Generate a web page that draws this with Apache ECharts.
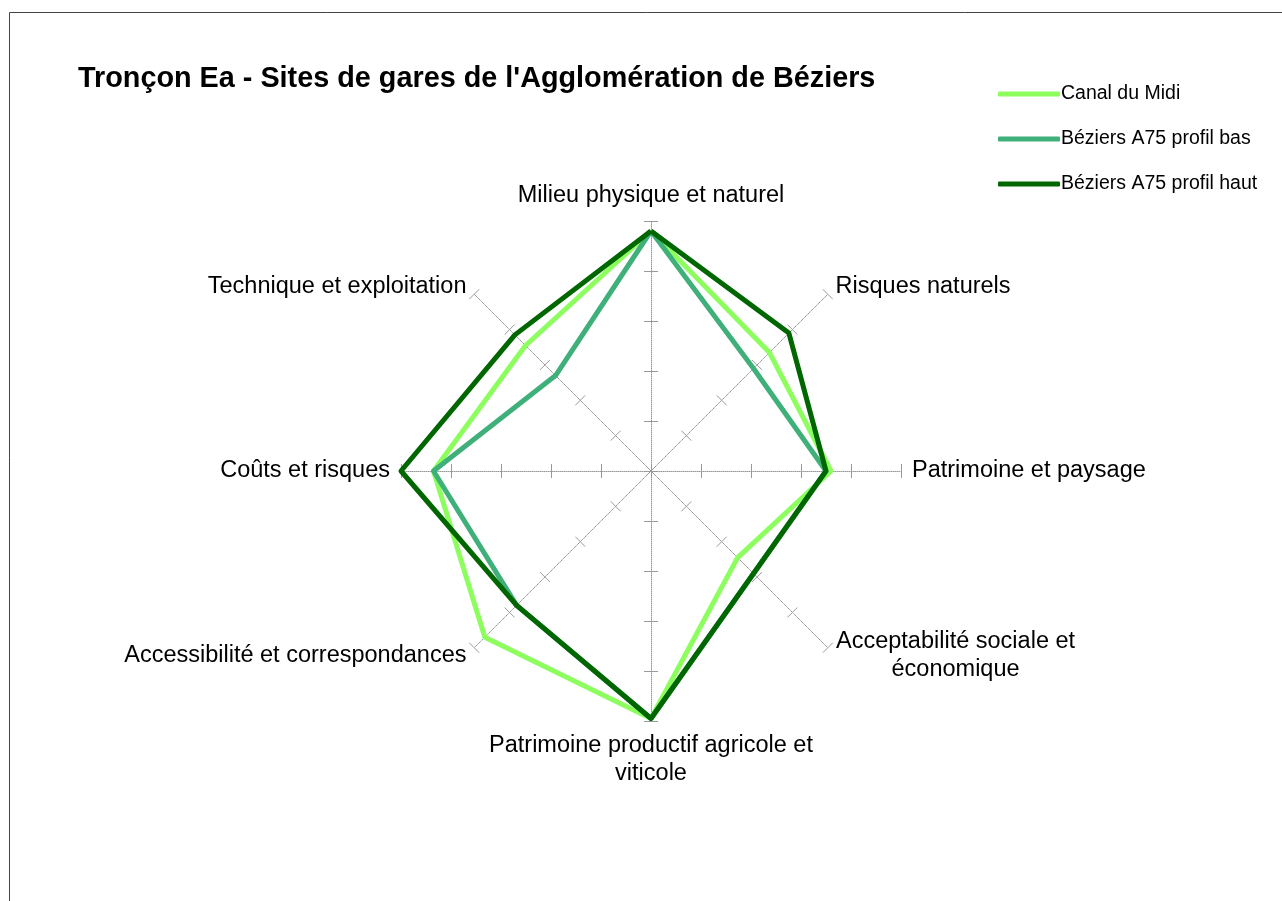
<!DOCTYPE html>
<html>
<head>
    <meta charset="utf-8">
    <title>Tronçon Ea</title>
    <script src="https://cdn.jsdelivr.net/npm/echarts@6/dist/echarts.min.js"></script>
    <style>
        html, body { margin: 0; padding: 0; background: #fff; }
        #main { width: 1282px; height: 901px; }
    </style>
</head>
<body>
<div id="main"></div>
<script type="text/javascript">
    // axes, counter-clockwise from the top (ECharts radar order)
    var axes = ['Milieu physique et naturel', 'Technique et exploitation', 'Coûts et risques',
        'Accessibilité et correspondances', 'Patrimoine productif agricole et\nviticole',
        'Acceptabilité sociale et\néconomique', 'Patrimoine et paysage', 'Risques naturels'];
    var seriesNames = ['Canal du Midi', 'Béziers A75 profil bas', 'Béziers A75 profil haut'];
    var canal = [4.8, 3.55, 4.35, 4.7, 4.95, 2.45, 3.6, 3.35];
    var profilBas = [4.8, 2.7, 4.35, 3.8, 4.95, 2.9, 3.5, 2.9];
    var profilHaut = [4.8, 3.85, 5.0, 3.8, 4.95, 2.9, 3.5, 3.9];
    var colors = ['#8CFF5F', '#3FB07A', '#006600'];
    var axisMax = 5;

    var myChart = echarts.init(document.getElementById('main'));

    var indicator = [];
    for (var i = 0; i < axes.length; i++) {
        indicator.push({name: axes[i], max: axisMax, min: 0});
    }

    var radarBase = {
        center: [651, 471],
        radius: 250,
        startAngle: 90,
        splitNumber: 5,
        shape: 'polygon',
        indicator: indicator,
        splitLine: {show: false},
        splitArea: {show: false},
        axisLabel: {show: false}
    };

    var radar1 = Object.assign({}, radarBase, {
        axisName: {
            color: '#000',
            fontSize: 23.5,
            fontFamily: 'Liberation Sans',
            lineHeight: 28,
            formatter: function (name) {
                // centred second line, like the original
                if (name.indexOf('Acceptabilité') === 0) {
                    var parts = name.split('\n');
                    return '{c|' + parts[0] + '}\n{c|' + parts[1] + '}';
                }
                return name;
            },
            rich: {
                c: {width: 240, align: 'center', fontSize: 23.5, fontFamily: 'Liberation Sans', color: '#000', lineHeight: 28}
            }
        },
        nameGap: 11,
        axisLine: {lineStyle: {color: '#999', type: 'dotted', width: 1}},
        axisTick: {show: true, length: 7, lineStyle: {color: '#999'}}
    });
    // second radar only for the other half of the tick crosses
    var radar2 = Object.assign({}, radarBase, {
        axisName: {show: false},
        axisLine: {show: false},
        axisTick: {show: true, length: -7, lineStyle: {color: '#999'}}
    });

    var dataSets = [canal, profilBas, profilHaut];
    var series = [];
    for (var k = 0; k < dataSets.length; k++) {
        series.push({
            name: seriesNames[k],
            type: 'radar',
            radarIndex: 0,
            symbol: 'none',
            z: 2 + k,
            lineStyle: {color: colors[k], width: 5},
            itemStyle: {color: colors[k]},
            data: [{value: dataSets[k], name: seriesNames[k]}]
        });
    }

    var option = {
        backgroundColor: '#fff',
        animation: false,
        title: {
            text: "Tronçon Ea - Sites de gares de l'Agglomération de Béziers",
            left: 73,
            top: 60,
            textStyle: {fontSize: 28.8, fontWeight: 'bold', color: '#000', fontFamily: 'Liberation Sans'}
        },
        legend: {
            orient: 'vertical',
            left: 993,
            top: 79,
            itemWidth: 62,
            itemHeight: 5,
            itemGap: 25,
            icon: 'roundRect',
            data: seriesNames,
            textStyle: {fontSize: 19.5, color: '#000', fontFamily: 'Liberation Sans', padding: [0, 0, 0, -4]}
        },
        graphic: [{
            type: 'rect',
            shape: {x: 9.5, y: 12.5, width: 1300, height: 1000},
            style: {fill: 'none', stroke: '#444', lineWidth: 1},
            silent: true
        }],
        radar: [radar1, radar2],
        series: series
    };
    myChart.setOption(option);
</script>
</body>
</html>
